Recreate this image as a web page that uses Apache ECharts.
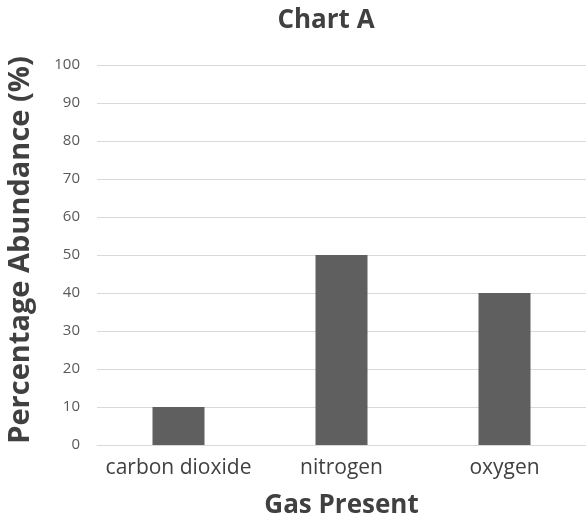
<!DOCTYPE html>
<html><head><meta charset="utf-8">
<script src="https://cdn.jsdelivr.net/npm/echarts@6/dist/echarts.min.js"></script>
<style>html,body{margin:0;padding:0;background:#fff}#c{width:586px;height:522px}</style>
</head><body><div id="c"></div>
<script>
const categories = ["carbon dioxide", "nitrogen", "oxygen"];
const values = [10, 50, 40];
const yTicks = [0, 10, 20, 30, 40, 50, 60, 70, 80, 90, 100];

const chart = echarts.init(document.getElementById('c'), null, {renderer: 'canvas'});
const F = '"Open Sans", "Noto Sans", sans-serif';
chart.setOption({
  animation: false,
  title: {
    text: 'Chart A', left: 321, top: 3, textAlign: 'center',
    textStyle: {fontFamily: F, fontSize: 26, fontWeight: 'bold', color: '#404040'}
  },
  grid: {left: 97, right: 0, top: 65, bottom: 77, outerBoundsMode: 'none', containLabel: false},
  xAxis: {
    type: 'category', data: categories,
    name: 'Gas Present', nameLocation: 'middle', nameGap: 48,
    nameTextStyle: {fontFamily: F, fontSize: 26, fontWeight: 'bold', color: '#404040'},
    axisLine: {lineStyle: {color: '#d9d9d9'}},
    axisTick: {show: false},
    axisLabel: {fontFamily: F, fontSize: 21, color: '#404040', margin: 13, interval: 0, hideOverlap: false}
  },
  yAxis: {
    type: 'value', min: yTicks[0], max: yTicks[yTicks.length - 1], interval: 10,
    name: 'Percentage Abundance (%)', nameLocation: 'middle', nameGap: 62,
    nameTextStyle: {fontFamily: F, fontSize: 29, fontWeight: 'bold', color: '#404040', padding: [0, 0, 0, 10]},
    axisLine: {show: false}, axisTick: {show: false},
    axisLabel: {fontFamily: F, fontSize: 15, color: '#595959', margin: 17},
    splitLine: {lineStyle: {color: '#d9d9d9', width: 1}}
  },
  series: [{
    type: 'bar', data: values, barWidth: 52,
    itemStyle: {color: '#5f5f5f'}
  }]
});
</script></body></html>
